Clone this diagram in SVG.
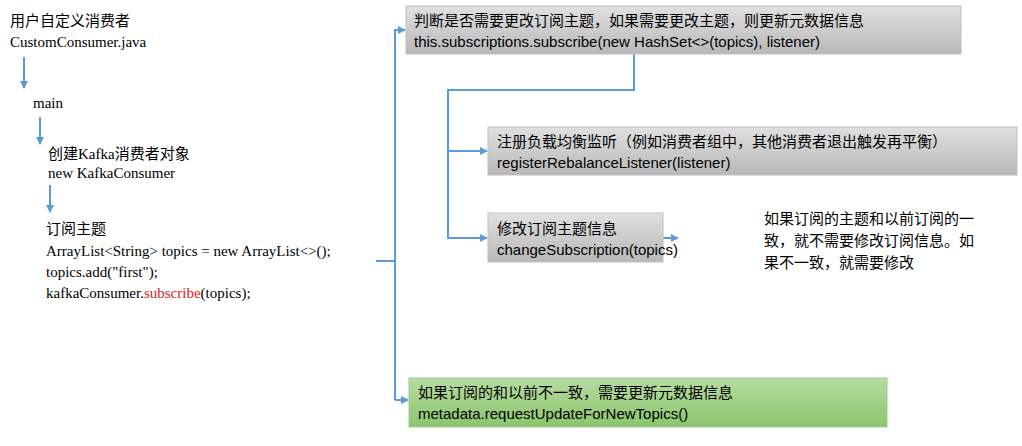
<svg xmlns="http://www.w3.org/2000/svg" width="1022" height="446" viewBox="0 0 1022 446">
<style>
.t{font-family:"Liberation Serif","Noto Sans CJK SC",serif;font-size:15px;fill:#000}
.s{font-family:"Liberation Sans","Noto Sans CJK SC",sans-serif;font-size:15px;fill:#000}
.c{stroke:#5b9bd5;stroke-width:2;fill:none}
</style>
<defs>
<linearGradient id="g" x1="0" y1="0" x2="0" y2="1"><stop offset="0" stop-color="#e0e0e0"/><stop offset="1" stop-color="#b8b8b8"/></linearGradient>
<linearGradient id="gr" x1="0" y1="0" x2="0" y2="1"><stop offset="0" stop-color="#b6dca0"/><stop offset="1" stop-color="#8cc46c"/></linearGradient>
<marker id="a" markerWidth="8" markerHeight="8" refX="7" refY="4" orient="auto" markerUnits="userSpaceOnUse"><path d="M0,0 L8,4 L0,8 z" fill="#5b9bd5"/></marker>
</defs>
<rect width="1022" height="446" fill="#fff"/>
<g id="connectors">
<path class="c" d="M24,57 V88" marker-end="url(#a)"/>
<path class="c" d="M40,117 V144" marker-end="url(#a)"/>
<path class="c" d="M50,185 V212" marker-end="url(#a)"/>
<path class="c" d="M376,261 H395 M395,400 V30 H405" marker-end="url(#a)"/>
<path class="c" d="M395,400 H408" marker-end="url(#a)"/>
<path class="c" d="M634,54 V90 H448 V238 H487" marker-end="url(#a)"/>
<path class="c" d="M448,151 H487" marker-end="url(#a)"/>
<path class="c" d="M663,238 H678" marker-end="url(#a)"/>
</g>
<g id="left">
<text class="t" x="10" y="26">用户自定义消费者</text>
<text class="t" x="10" y="47">CustomConsumer.java</text>
<text class="t" x="33" y="108">main</text>
<text class="t" x="48" y="159">创建Kafka消费者对象</text>
<text class="t" x="48" y="178">new KafkaConsumer</text>
<text class="t" x="46" y="234">订阅主题</text>
<text class="t" x="46" y="256">ArrayList&lt;String&gt; topics = new ArrayList&lt;&gt;();</text>
<text class="t" x="46" y="277">topics.add("first");</text>
<text class="t" x="46" y="298">kafkaConsumer.<tspan fill="#e02020">subscribe</tspan>(topics);</text>
</g>
<g id="n1"><rect x="406" y="6" width="555" height="48" fill="url(#g)" stroke="#c0c0c0"/>
<text class="s" x="414" y="26">判断是否需要更改订阅主题，如果需要更改主题，则更新元数据信息</text>
<text class="s" x="414" y="47">this.subscriptions.subscribe(new HashSet&lt;&gt;(topics), listener)</text></g>
<g id="n2"><rect x="488" y="127" width="529" height="48" fill="url(#g)" stroke="#c0c0c0"/>
<text class="s" x="497" y="147">注册负载均衡监听（例如消费者组中，其他消费者退出触发再平衡）</text>
<text class="s" x="497" y="168">registerRebalanceListener(listener)</text></g>
<g id="n3"><rect x="488" y="213" width="175" height="49" fill="url(#g)" stroke="#c0c0c0"/>
<text class="s" x="497" y="234">修改订阅主题信息</text>
<text class="s" x="497" y="255">changeSubscription(topics)</text></g>
<g id="note">
<text class="t" x="764" y="224">如果订阅的主题和以前订阅的一</text>
<text class="t" x="764" y="246">致，就不需要修改订阅信息。如</text>
<text class="t" x="764" y="268">果不一致，就需要修改</text></g>
<g id="n4"><rect x="409" y="378" width="478" height="49" fill="url(#gr)" stroke="#9c9"/>
<text class="s" x="418" y="398">如果订阅的和以前不一致，需要更新元数据信息</text>
<text class="s" x="418" y="419">metadata.requestUpdateForNewTopics()</text></g>
</svg>
